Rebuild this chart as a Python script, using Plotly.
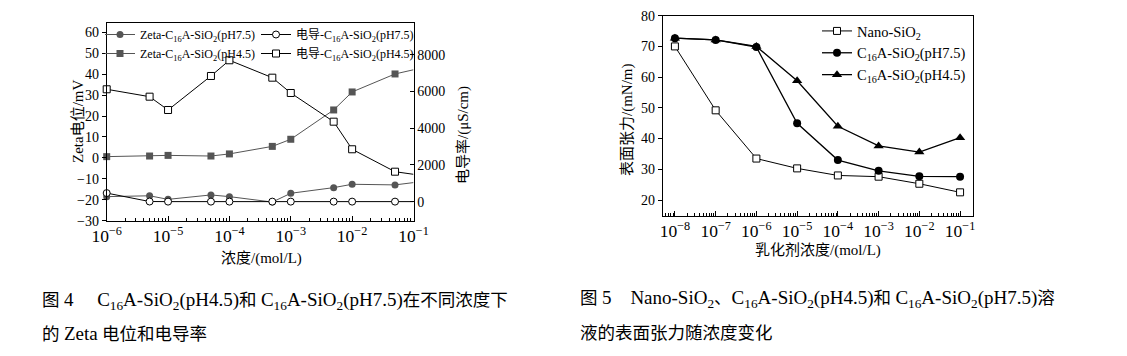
import plotly.graph_objects as go

# ---------------- data ----------------
conc_left = [1e-6, 5e-6, 1e-5, 5e-5, 1e-4, 5e-4, 1e-3, 5e-3, 1e-2, 5e-2, 1e-1]
zeta_ph75 = [-18.5, -18.1, -19.8, -17.7, -18.5, -21.1, -16.9, -14.2, -12.6, -12.9, -11.8]
zeta_ph45 = [0.6, 0.9, 1.2, 0.9, 1.9, 5.5, 8.9, 22.9, 31.5, 40.1, 42.1]
cond_ph75 = [470, 10, 5, 5, 5, 5, 5, 5, 5, 5, 5]
cond_ph45 = [6125, 5722, 4997, 6850, 7706, 6757, 5923, 4360, 2856, 1635, 1493]

conc_right = [1e-8, 1e-7, 1e-6, 1e-5, 1e-4, 1e-3, 1e-2, 1e-1]
st_nano = [70.0, 49.2, 33.5, 30.3, 28.0, 27.6, 25.3, 22.5]
st_ph75 = [72.7, 72.1, 69.8, 45.0, 33.0, 29.5, 27.7, 27.6]
st_ph45 = [72.7, 72.1, 70.0, 58.8, 44.0, 37.6, 35.6, 40.3]

FONT = "Liberation Serif"
CJK = "Liberation Serif, Noto Sans CJK SC"
OFF = 8                      # page body margin
W, H = 1127 - 2 * OFF, 356 - 2 * OFF

def px(x):
    return (x - OFF) / W

def py(y):
    return 1 - (y - OFF) / H

fig = go.Figure()

GRAY = "#555555"
# left plot
fig.add_trace(go.Scatter(x=conc_left, y=zeta_ph75, mode="lines+markers",
                         name="Zeta-C<sub>16</sub>A-SiO<sub>2</sub>(pH7.5)",
                         line=dict(color=GRAY, width=1),
                         marker=dict(symbol="circle", size=7, color=GRAY),
                         xaxis="x", yaxis="y", legend="legend", cliponaxis=False))
fig.add_trace(go.Scatter(x=conc_left, y=zeta_ph45, mode="lines+markers",
                         name="Zeta-C<sub>16</sub>A-SiO<sub>2</sub>(pH4.5)",
                         line=dict(color=GRAY, width=1),
                         marker=dict(symbol="square", size=7, color=GRAY),
                         xaxis="x", yaxis="y", legend="legend", cliponaxis=False))
fig.add_trace(go.Scatter(x=conc_left, y=cond_ph75, mode="lines+markers",
                         name="电导-C<sub>16</sub>A-SiO<sub>2</sub>(pH7.5)",
                         line=dict(color="black", width=1),
                         marker=dict(symbol="circle", size=7, color="white",
                                     line=dict(color="black", width=1)),
                         xaxis="x", yaxis="y2", legend="legend2", cliponaxis=False))
fig.add_trace(go.Scatter(x=conc_left, y=cond_ph45, mode="lines+markers",
                         name="电导-C<sub>16</sub>A-SiO<sub>2</sub>(pH4.5)",
                         line=dict(color="black", width=1),
                         marker=dict(symbol="square", size=7, color="white",
                                     line=dict(color="black", width=1)),
                         xaxis="x", yaxis="y2", legend="legend2", cliponaxis=False))

# right plot
fig.add_trace(go.Scatter(x=conc_right, y=st_nano, mode="lines+markers",
                         name="Nano-SiO<sub>2</sub>",
                         line=dict(color="black", width=1),
                         marker=dict(symbol="square", size=7, color="white",
                                     line=dict(color="black", width=1)),
                         xaxis="x2", yaxis="y3", legend="legend3", cliponaxis=False))
fig.add_trace(go.Scatter(x=conc_right, y=st_ph75, mode="lines+markers",
                         name="C<sub>16</sub>A-SiO<sub>2</sub>(pH7.5)",
                         line=dict(color="black", width=1.3),
                         marker=dict(symbol="circle", size=8, color="black"),
                         xaxis="x2", yaxis="y3", legend="legend3", cliponaxis=False))
fig.add_trace(go.Scatter(x=conc_right, y=st_ph45, mode="lines+markers",
                         name="C<sub>16</sub>A-SiO<sub>2</sub>(pH4.5)",
                         line=dict(color="black", width=1.3),
                         marker=dict(symbol="triangle-up", size=9, color="black"),
                         xaxis="x2", yaxis="y3", legend="legend3", cliponaxis=False))

tickfont = dict(family=FONT, size=14, color="black")
axcommon = dict(showline=True, linecolor="black", linewidth=1, showgrid=False,
                zeroline=False, tickfont=tickfont, tickcolor="black",
                automargin=False)

fig.update_layout(
    width=W, height=H, margin=dict(l=0, r=0, t=0, b=0, autoexpand=False),
    paper_bgcolor="white", plot_bgcolor="white",
    font=dict(family=FONT, size=14, color="black"),
    xaxis=dict(type="log", domain=[px(106.7), px(413.5)], range=[-6, -1],
               anchor="y", mirror=True, ticks="inside", ticklen=5,
               dtick=1, exponentformat="power", showexponent="all",
               minor=dict(ticks="inside", ticklen=3, tickcolor="black"),
               **axcommon),
    yaxis=dict(domain=[py(220.7), py(23.3)], range=[-30, 64.3], anchor="x",
               dtick=10, tick0=0, ticks="outside", ticklen=4, **axcommon),
    yaxis2=dict(overlaying="y", side="right", anchor="x", range=[-1035, 9720],
                tickvals=[0, 2000, 4000, 6000, 8000], ticks="inside", ticklen=4,
                **axcommon),
    xaxis2=dict(type="log", domain=[px(662.7), px(972.7)], range=[-8.30, -0.69],
                anchor="y3", mirror=True, ticks="inside", ticklen=5,
                dtick=1, exponentformat="power", showexponent="all",
                minor=dict(ticks="inside", ticklen=3, tickcolor="black"),
                **axcommon),
    yaxis3=dict(domain=[py(216), py(15.7)], range=[14.8, 80], anchor="x2",
                mirror=True, dtick=10, tick0=0, ticks="outside", ticklen=4,
                **axcommon),
    legend=dict(x=px(100), y=py(20), xanchor="left", yanchor="top",
                bgcolor="rgba(0,0,0,0)", font=dict(family=CJK, size=12),
                tracegroupgap=0, itemwidth=30),
    legend2=dict(x=px(256), y=py(20), xanchor="left", yanchor="top",
                 bgcolor="rgba(0,0,0,0)", font=dict(family=CJK, size=12),
                 tracegroupgap=0, itemwidth=30),
    legend3=dict(x=px(817), y=py(15), xanchor="left", yanchor="top",
                 bgcolor="rgba(0,0,0,0)", font=dict(family=FONT, size=14.5),
                 tracegroupgap=0, itemwidth=30),
)
for i, tr in enumerate(fig.data):
    tr.legendgroup = f"g{i}"

annots = [
    dict(text="Zeta电位/mV", x=px(78), y=py(122), textangle=-90, size=15),
    dict(text="电导率/(μS/cm)", x=px(463), y=py(135), textangle=-90, size=15),
    dict(text="浓度/(mol/L)", x=px(261), y=py(258), textangle=0, size=15),
    dict(text="表面张力/(mN/m)", x=px(628), y=py(120), textangle=-90, size=15),
    dict(text="乳化剂浓度/(mol/L)", x=px(818), y=py(250), textangle=0, size=15),
]
for a in annots:
    fig.add_annotation(text=a["text"], x=a["x"], y=a["y"], xref="paper", yref="paper",
                       showarrow=False, textangle=a["textangle"],
                       xanchor="center", yanchor="middle",
                       font=dict(family=CJK, size=a["size"], color="black"))

def L(s):
    return '<span style="font-size:19px">' + s + '</span>'

c16 = "C<sub>16</sub>A-SiO<sub>2</sub>"
captions = [
    ("图 " + L("4&nbsp;&nbsp;&nbsp;&nbsp;&nbsp;" + c16 + "(pH4.5)") + "和 " + L(c16 + "(pH7.5)") + "在不同浓度下", 40, 301),
    ("的 " + L("Zeta") + " 电位和电导率", 40, 333),
    ("图 " + L("5&nbsp;&nbsp;&nbsp;&nbsp;Nano-SiO<sub>2</sub>") + "、" + L(c16 + "(pH4.5)") + "和 " + L(c16 + "(pH7.5)") + "溶", 578, 299),
    ("液的表面张力随浓度变化", 578, 333),
]
for t, x, y in captions:
    fig.add_annotation(text=t, x=px(x), y=py(y), xref="paper", yref="paper",
                       showarrow=False, xanchor="left", yanchor="middle",
                       font=dict(family=CJK, size=17.5, color="black"))

fig.write_html("out.html")
